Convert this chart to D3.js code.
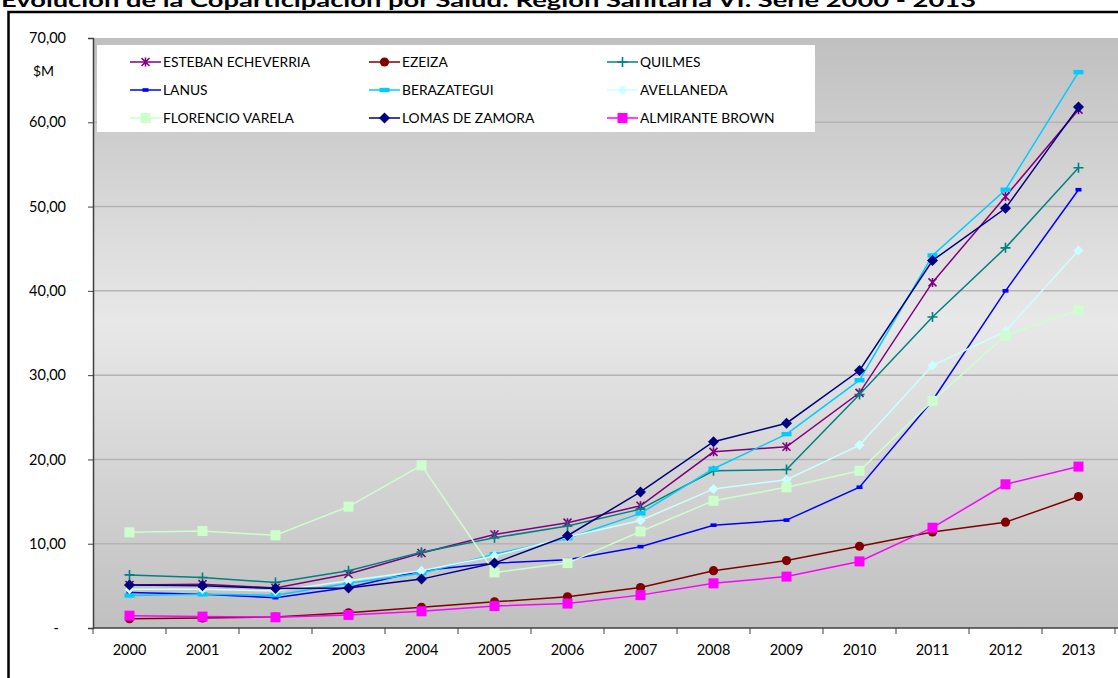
<!DOCTYPE html>
<html>
<head>
<meta charset="utf-8">
<script src="https://cdn.jsdelivr.net/npm/d3@7"></script>
<style>
  html, body { margin: 0; padding: 0; background: #ffffff; }
  svg { display: block; }
  text { font-family: Lato, "Open Sans", sans-serif; }
</style>
</head>
<body>
<svg id="chart" width="1118" height="678"></svg>
<script>
// ---- data ----
const years = [2000, 2001, 2002, 2003, 2004, 2005, 2006, 2007, 2008, 2009, 2010, 2011, 2012, 2013];
const seriesNames = ["ESTEBAN ECHEVERRIA", "EZEIZA", "QUILMES", "LANUS", "BERAZATEGUI", "AVELLANEDA", "FLORENCIO VARELA", "LOMAS DE ZAMORA", "ALMIRANTE BROWN"];
const estebanEcheverria = [5.1, 5.2, 4.75, 6.4, 8.9, 11.1, 12.5, 14.5, 20.9, 21.5, 27.9, 41.0, 51.2, 61.5];
const ezeiza            = [1.1, 1.2, 1.3, 1.8, 2.45, 3.1, 3.7, 4.8, 6.8, 8.0, 9.7, 11.4, 12.55, 15.6];
const quilmes           = [6.3, 6.0, 5.4, 6.8, 9.0, 10.7, 12.1, 14.1, 18.65, 18.8, 27.7, 36.9, 45.1, 54.6];
const lanus             = [4.2, 4.0, 3.6, 4.8, 6.8, 7.7, 8.1, 9.65, 12.2, 12.8, 16.7, 27.0, 40.0, 52.0];
const berazategui       = [3.85, 4.0, 3.9, 5.3, 6.5, 8.75, 10.65, 13.6, 18.9, 23.0, 29.4, 44.2, 52.0, 65.95];
const avellaneda        = [4.6, 4.6, 4.4, 5.6, 6.8, 8.55, 10.8, 12.75, 16.5, 17.6, 21.7, 31.15, 35.2, 44.8];
const florencioVarela   = [11.35, 11.5, 11.0, 14.4, 19.3, 6.6, 7.7, 11.45, 15.1, 16.7, 18.65, 26.95, 34.7, 37.7];
const lomasDeZamora     = [5.1, 5.0, 4.7, 4.75, 5.8, 7.7, 10.95, 16.15, 22.1, 24.3, 30.55, 43.6, 49.8, 61.8];
const almiranteBrown    = [1.46, 1.35, 1.27, 1.55, 1.98, 2.6, 2.9, 3.9, 5.3, 6.1, 7.9, 11.9, 17.05, 19.15];
const yTicks = [0, 10, 20, 30, 40, 50, 60, 70];
const titleText = "Evolución de la Coparticipación por Salud: Región Sanitaria VI. Serie 2000 - 2013";
const unitLabel = "$M";

const seriesValues = [estebanEcheverria, ezeiza, quilmes, lanus, berazategui, avellaneda, florencioVarela, lomasDeZamora, almiranteBrown];
const colors = ["#800080", "#800000", "#008080", "#0000FF", "#00CCFF", "#CCFFFF", "#CCFFCC", "#000080", "#FF00FF"];
const markers = ["star", "circle", "plus", "dashS", "dashL", "diamondS", "square", "diamond", "square"];

const series = seriesNames.map((n, i) => ({ name: n, values: seriesValues[i], color: colors[i], marker: markers[i] }));

// ---- layout ----
const svg = d3.select("#chart");
const plot = { left: 93, right: 1115, top: 38, bottom: 628 };

const x = d3.scaleBand().domain(years).range([plot.left, plot.right]);
const y = d3.scaleLinear().domain([0, 70]).range([plot.bottom, plot.top]);
const cx = d => x(d) + x.bandwidth() / 2;

// gradient
const defs = svg.append("defs");
const grad = defs.append("linearGradient").attr("id", "bg").attr("x1", 0).attr("y1", 0).attr("x2", 0).attr("y2", 1);
grad.append("stop").attr("offset", "0%").attr("stop-color", "#c0c0c0");
grad.append("stop").attr("offset", "48%").attr("stop-color", "#e8e8e8");
grad.append("stop").attr("offset", "100%").attr("stop-color", "#c0c0c0");

// title
svg.append("text")
  .attr("x", 1).attr("y", 7)
  .attr("font-size", 19).attr("font-weight", "bold")
  .attr("textLength", 975).attr("lengthAdjust", "spacingAndGlyphs")
  .attr("fill", "#000")
  .text(titleText);

// outer frame
svg.append("rect")
  .attr("x", 8.5).attr("y", 12).attr("width", 1300).attr("height", 900)
  .attr("fill", "#fff").attr("stroke", "#000").attr("stroke-width", 2.5);

// plot background
svg.append("rect")
  .attr("x", plot.left).attr("y", plot.top)
  .attr("width", 1118 - plot.left).attr("height", plot.bottom - plot.top)
  .attr("fill", "url(#bg)");

// gridlines
svg.append("g").selectAll("line").data(yTicks.filter(d => d > 0 && d < 70)).join("line")
  .attr("x1", plot.left).attr("x2", 1118)
  .attr("y1", d => y(d)).attr("y2", d => y(d))
  .attr("stroke", "#b4b4b4").attr("stroke-width", 1.5);

// y axis
const yAxis = svg.append("g").attr("transform", `translate(${plot.left},0)`)
  .call(d3.axisLeft(y).tickValues(yTicks).tickSize(5).tickPadding(22)
    .tickFormat(d => d === 0 ? "-" : d3.format(".2f")(d).replace(".", ",")));
yAxis.select(".domain").attr("stroke", "#404040").attr("stroke-width", 1.5);
yAxis.selectAll(".tick line").attr("stroke", "#404040");
yAxis.selectAll("text").attr("font-size", 14.5).attr("fill", "#000");
yAxis.selectAll(".tick").filter(d => d === 0).select("text").attr("dx", -7);

// unit label
svg.append("text").attr("x", 33).attr("y", 76).attr("font-size", 14).attr("fill", "#000").text(unitLabel);

// x axis (labels at band centers)
const xAxis = svg.append("g").attr("transform", `translate(0,${plot.bottom})`)
  .call(d3.axisBottom(x).tickSize(0).tickPadding(17));
xAxis.select(".domain").remove();
xAxis.selectAll("text").attr("font-size", 14.5).attr("fill", "#000");
svg.append("line")
  .attr("x1", plot.left).attr("x2", 1118).attr("y1", plot.bottom).attr("y2", plot.bottom)
  .attr("stroke", "#404040").attr("stroke-width", 1.5);
const boundaries = years.map(d => x(d)).concat([x(years[years.length - 1]) + x.bandwidth()]);
svg.append("g").selectAll("line").data(boundaries).join("line")
  .attr("x1", d => d).attr("x2", d => d)
  .attr("y1", plot.bottom).attr("y2", plot.bottom + 6)
  .attr("stroke", "#404040").attr("stroke-width", 1);

// marker drawing
function drawMarker(g, type, color) {
  switch (type) {
    case "star":
      g.append("path").attr("d", "M-4,-4L4,4M-4,4L4,-4M0,-4.5L0,4.5")
        .attr("stroke", color).attr("stroke-width", 1.6).attr("fill", "none");
      break;
    case "circle":
      g.append("circle").attr("r", 4.6).attr("fill", color);
      break;
    case "plus":
      g.append("path").attr("d", "M-5,0L5,0M0,-5L0,5")
        .attr("stroke", color).attr("stroke-width", 1.6).attr("fill", "none");
      break;
    case "dashS":
      g.append("rect").attr("x", -3).attr("y", -1.8).attr("width", 6).attr("height", 3.6).attr("fill", color);
      break;
    case "dashL":
      g.append("rect").attr("x", -5).attr("y", -2.2).attr("width", 10).attr("height", 4.4).attr("fill", color);
      break;
    case "diamondS":
      g.append("path").attr("d", "M0,-5L5,0L0,5L-5,0Z").attr("fill", color);
      break;
    case "diamond":
      g.append("path").attr("d", "M0,-5.5L5.5,0L0,5.5L-5.5,0Z").attr("fill", color);
      break;
    case "square":
      g.append("rect").attr("x", -5).attr("y", -5).attr("width", 10).attr("height", 10).attr("fill", color);
      break;
  }
}

// series lines & markers
const line = d3.line().x((d, i) => cx(years[i])).y(d => y(d));
series.forEach(s => {
  const g = svg.append("g");
  g.append("path").attr("d", line(s.values))
    .attr("fill", "none").attr("stroke", s.color).attr("stroke-width", 1.5);
  s.values.forEach((v, i) => {
    const m = g.append("g").attr("transform", `translate(${cx(years[i])},${y(v)})`);
    drawMarker(m, s.marker, s.color);
  });
});

// legend
const legend = svg.append("g");
legend.append("rect").attr("x", 97).attr("y", 45).attr("width", 718).attr("height", 87).attr("fill", "#fff");
const colX = [130, 369, 607];
const rowY = [62, 90, 118];
series.forEach((s, i) => {
  const lx = colX[i % 3], ly = rowY[Math.floor(i / 3)];
  const g = legend.append("g");
  g.append("line").attr("x1", lx).attr("x2", lx + 31).attr("y1", ly).attr("y2", ly)
    .attr("stroke", s.color).attr("stroke-width", 1.5);
  const m = g.append("g").attr("transform", `translate(${lx + 15.5},${ly})`);
  drawMarker(m, s.marker, s.color);
  g.append("text").attr("x", lx + 33).attr("y", ly).attr("dy", "0.36em")
    .attr("font-size", 13.8).attr("fill", "#000").text(s.name);
});
</script>
</body>
</html>
